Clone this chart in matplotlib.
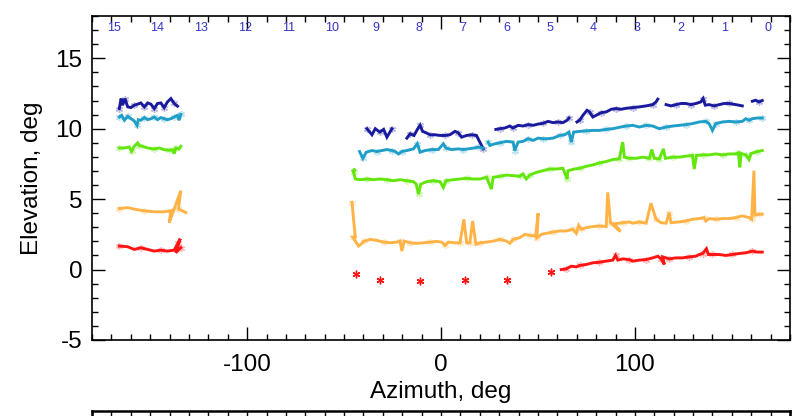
import numpy as np
import matplotlib
matplotlib.use("Agg")
import matplotlib.pyplot as plt
from matplotlib.ticker import MultipleLocator

plt.rcParams['font.family'] = ['Liberation Sans', 'DejaVu Sans']
plt.rcParams['axes.unicode_minus'] = False

nan = np.nan

# elevation vs azimuth per colour, nan = gap between segments
navy_az = [-165.9, -165.0, -164.2, -163.0, -161.6, -159.9, -158.2, -156.5, -154.8, -153.0, -151.3, -149.6, -147.9,
           -146.2, -144.5, -142.8, -141.1, -139.3, -137.6, -135.9, nan,
           -38.2, -35.6, -33.9, -31.6, -29.6, -27.9, -25.3, nan,
           -17.6, -15.9, -13.9, -12.2, -10.8, -9.5, -7.7, -5.7, -3.1, -0.5, 2.1, 4.6, 7.2, 8.9, 10.6, 13.2, 15.8,
           18.3, 20.9, 21.8, nan,
           28.3, 30.3, 32.9, 35.5, 37.1, 39.8, 42.3, 44.9, 47.5, 50.1, 52.6, 55.2, 57.8, 60.3, 62.9, 65.0, 66.0, nan,
           70.1, 71.5, 73.2, 75.3, 76.6, 78.3, 80.0, 82.6, 85.2, 87.8, 90.3, 92.9, 95.5, 98.9, 102.3, 105.8, 109.2,
           110.9, 111.8, nan,
           116.1, 118.6, 121.2, 123.8, 126.3, 128.9, 131.5, 134.0, 135.2, 136.3, 138.3, 140.9, 143.5, 146.0, 148.6,
           152.0, 155.4, nan,
           160.6, 162.3, 164.0, 165.7]
navy_el = [11.43, 12.14, 11.67, 12.14, 11.55, 11.5, 11.67, 11.74, 11.83, 11.55, 11.83, 11.74, 11.43,
           11.79, 11.83, 11.5, 11.9, 12.14, 11.79, 11.6, nan,
           10.0, 9.57, 10.0, 9.76, 9.95, 9.4, 10.0, nan,
           9.33, 9.64, 9.52, 9.95, 10.24, 9.81, 9.71, 9.57, 9.57, 9.52, 9.52, 9.57, 9.81, 9.71, 9.4, 9.52, 9.57,
           9.52, 8.81, 8.57, nan,
           9.95, 10.0, 10.05, 10.19, 10.05, 10.24, 10.19, 10.29, 10.24, 10.33, 10.38, 10.52, 10.43, 10.48, 10.43,
           10.6, 10.76, nan,
           10.48, 10.6, 10.95, 11.31, 11.19, 10.83, 10.95, 11.14, 11.19, 11.38, 11.43, 11.38, 11.45, 11.5, 11.55,
           11.62, 11.71, 11.9, 12.1, nan,
           11.71, 11.62, 11.71, 11.79, 11.79, 11.71, 11.79, 11.9, 12.14, 11.67, 11.71, 11.62, 11.71, 11.79, 11.79,
           11.71, 11.62, nan,
           11.95, 12.02, 11.9, 12.0]

cyan_az = [-165.9, -164.7, -163.3, -161.6, -159.9, -158.2, -156.8, -156.1, -154.8, -153.0, -151.3, -149.6, -147.9,
           -146.2, -144.5, -142.8, -141.1, -139.3, -137.6, -135.9, -135.1, -134.2, nan,
           -42.0, -40.3, -38.6, -35.6, -33.1, -30.5, -27.9, -25.3, -23.6, -21.9, -20.2, -17.6, -14.2, -12.2, -10.8,
           -8.2, -4.8, -1.4, 1.2, 2.6, 5.5, 8.9, 11.5, 14.1, 16.6, 19.2, 21.8, nan,
           24.3, 25.2, 27.8, 30.3, 33.8, 37.2, 38.0, 39.8, 42.3, 44.9, 47.5, 50.1, 52.6, 55.2, 57.8, 61.2, 63.8,
           66.0, 67.2, 68.4, 71.5, 74.9, 78.3, 81.7, 85.2, 88.6, 92.0,
           95.5, 98.9, 102.3, 105.8, 109.2, 112.6, 116.1, 119.5, 122.9, 126.3, 129.7, 133.2, 136.6, 138.3, 140.0,
           141.7, 145.2, 148.6, 152.0, 155.4, 157.2, 158.9, 160.6, 163.1, 165.7]
cyan_el = [10.83, 10.95, 10.6, 10.88, 10.71, 10.55, 10.24, 10.64, 10.6, 10.79, 10.64, 10.71, 10.83,
           10.64, 10.79, 10.71, 10.64, 10.71, 10.83, 10.95, 10.6, 11.02, nan,
           8.38, 7.9, 8.33, 8.45, 8.38, 8.45, 8.52, 8.45, 8.38, 8.21, 8.38, 8.45, 8.57, 8.93, 8.33,
           8.45, 8.52, 8.52, 8.93, 8.62, 8.52, 8.57, 8.52, 8.57, 8.62, 8.69, 8.62, nan,
           9.05, 8.81, 8.93, 9.0, 9.1, 9.05, 8.45, 9.05, 9.1, 9.29, 9.17, 9.33, 9.29, 9.29, 9.33, 9.52, 9.57,
           9.76, 9.05, 9.76, 9.81, 9.85, 9.88, 9.88, 9.95, 10.0, 10.1,
           10.19, 10.24, 10.12, 10.24, 10.19, 10.0, 10.12, 10.19, 10.24, 10.29, 10.36, 10.48, 10.52, 10.36, 9.88,
           10.36, 10.48, 10.52, 10.48, 10.52, 10.71, 10.6, 10.71, 10.76, 10.76]

green_az = [-165.9, -163.3, -160.8, -159.6, -158.2, -156.5, -155.6, -153.9, -151.3, -147.9, -145.3, -142.8, -140.2,
            -138.5, -137.6, -136.8, -135.1, -134.2, nan,
            -45.4, -44.2, -45.1, -44.2, -41.6, -38.2, -34.8, -31.4, -27.9, -24.5, -21.1, -17.6, -14.2, -12.8, -11.6,
            -10.4, -7.4, -3.9, -0.5, 1.2, 2.6, 6.4, 9.8, 13.2, 16.6,
            20.1, 23.5, 26.0, 26.9, 30.3, 33.8, 37.2, 40.6, 42.3, 44.0, 45.8, 49.2, 52.6, 56.0, 59.5, 62.9, 65.0,
            65.5, 68.9, 71.5, 74.9, 78.3, 81.7, 85.2, 88.6, 92.0,
            93.7, 94.6, 97.2, 100.6, 104.0, 107.5, 108.7, 110.0, 112.6, 114.7, 115.7, 119.5, 122.9, 126.3, 129.7,
            130.6, 131.8, 134.9, 138.3, 141.7, 145.2, 148.6, 152.0, 153.4, 154.1, 154.8, 157.2, 158.9, 159.9,
            163.1, 165.7]
green_el = [8.63, 8.63, 8.7, 8.4, 8.75, 8.99, 8.8, 8.75, 8.63, 8.56, 8.63, 8.51, 8.47,
            8.51, 8.23, 8.63, 8.56, 8.75, nan,
            7.02, 7.14, 6.9, 6.43, 6.38, 6.43, 6.38, 6.43, 6.38, 6.31, 6.38, 6.31, 6.24, 6.07, 5.36,
            6.07, 6.24, 6.31, 6.24, 5.83, 6.31, 6.38, 6.43, 6.48, 6.43,
            6.43, 6.55, 5.71, 6.55, 6.62, 6.71, 6.67, 6.62, 6.79, 6.43, 6.71, 6.9, 7.02, 7.14, 7.14, 7.19, 6.43,
            7.02, 7.14, 7.19, 7.33, 7.43, 7.57, 7.67, 7.81, 7.86,
            9.05, 7.98, 7.9, 7.9, 7.98, 7.9, 8.52, 7.9, 7.86, 8.57, 7.9, 7.98, 7.98, 8.05, 8.1,
            7.14, 8.1, 8.14, 8.14, 8.21, 8.14, 8.21, 8.21, 8.29, 7.26, 8.24, 8.14, 7.81, 8.24,
            8.38, 8.45]

orange_az = [-165.9, -161.6, -158.2, -153.0, -147.9, -142.8, -139.3, -140.2, -134.2, -135.4, -131.6, nan,
             -45.9, -45.1, -44.2, -45.5, -42.5, -41.3, -39.9, -36.5, -33.1, -29.6, -26.2, -22.8, -21.1, -20.2, -19.0,
             -15.9, -12.5, -9.1, -5.7, -2.2, 0.3, 2.1, 3.8, 7.2, 9.8, 11.8, 13.2, 14.9, 16.3, 18.0,
             20.1, 23.5, 26.9, 30.3, 33.8, 35.5, 37.2, 40.6, 43.2, 45.8, 48.8, 50.1, 49.5, 51.8, 54.3, 57.8, 61.2,
             64.6, 68.0, 69.8, 71.0, 72.3, 74.9, 78.3, 81.7, 85.2, 86.0, 87.4, 92.5, 89.5, 94.0, 97.2,
             98.9, 102.3, 105.8, 108.3, 110.9, 113.5, 116.1, 117.7, 118.6, 122.9, 126.3, 129.7, 133.2, 135.7, 136.6,
             138.3, 141.7, 145.2, 148.6, 152.0, 155.4, 158.9, 160.2, 161.4, 161.9, 164.0, 165.7]
orange_el = [4.33, 4.4, 4.29, 4.17, 4.1, 4.1, 4.17, 3.33, 5.6, 4.3, 4.05, nan,
             4.76, 3.57, 2.33, 2.3, 1.67, 1.79, 2.0, 2.14, 2.07, 1.95, 1.9, 1.95, 2.02, 1.31, 2.02,
             1.9, 1.86, 1.9, 1.95, 2.0, 1.95, 1.71, 1.95, 1.9, 1.9, 3.57, 1.9, 1.9, 3.45, 1.79,
             1.9, 1.95, 2.02, 2.14, 2.02, 1.86, 2.14, 2.26, 2.5, 2.43, 2.38, 4.0, 2.26, 2.5, 2.57, 2.67, 2.74,
             2.74, 2.86, 2.57, 3.14, 2.86, 2.98, 3.05, 3.1, 3.05, 5.48, 3.33, 2.7, 3.25, 3.33, 3.38,
             3.29, 3.38, 3.29, 4.71, 3.57, 3.33, 3.29, 4.05, 3.33, 3.38, 3.45, 3.57, 3.62, 3.69, 3.45,
             3.62, 3.57, 3.62, 3.62, 3.69, 3.81, 3.69, 3.57, 7.02, 3.86, 3.93, 3.93]

red_az = [-165.9, -161.6, -158.2, -154.8, -151.3, -147.9, -144.5, -141.1, -137.6, -135.6, -134.5, -136.8, -134.2, nan,
          62.0, 64.6, 67.2, 69.8, 71.5, 74.9, 78.3, 81.7, 85.2, 88.6, 90.0, 91.2, 93.8, 97.2, 98.9, 102.3, 105.8,
          109.2, 111.8, 113.5, 115.2, 114.4, 117.7, 121.2, 124.6, 128.0, 131.5, 133.2, 134.9, 136.9, 137.9, 140.0,
          143.5, 146.9, 150.3, 153.7, 157.2, 160.6, 163.1, 165.7]
red_el = [1.67, 1.62, 1.43, 1.55, 1.43, 1.31, 1.38, 1.31, 1.38, 1.9, 2.19, 1.19, 1.55, nan,
          0.0, 0.05, 0.24, 0.19, 0.29, 0.36, 0.48, 0.52, 0.6, 0.67, 1.0, 0.67, 0.76, 0.7, 0.6, 0.67, 0.71,
          0.83, 0.95, 0.76, 0.36, 0.9, 0.76, 0.83, 0.83, 0.9, 0.95, 1.07, 1.14, 1.48, 1.07, 1.07,
          1.07, 1.0, 1.07, 1.14, 1.19, 1.31, 1.24, 1.24]

# isolated red points (no line)
red_pts_az = [-43.7, -31.7, -10.8, 12.3, 33.8, 56.9]
red_pts_el = [-0.29, -0.76, -0.83, -0.76, -0.71, -0.19]

sectors = list(range(15, -1, -1))

series = [
    (navy_az, navy_el, '#1a1a9e'),
    (cyan_az, cyan_el, '#1f9fc8'),
    (green_az, green_el, '#62e60c'),
    (orange_az, orange_el, '#ffb347'),
    (red_az, red_el, '#ff1414'),
]

fig = plt.figure(figsize=(8, 4.16), dpi=100)
ax = fig.add_axes([0.115, 0.1827, 0.8725, 0.7788])

asterisk = (6, 2, 0)
for az, el, col in series:
    ax.plot(az, el, color=col, linewidth=2.1, solid_joinstyle='miter')
    ax.plot(az, el, linestyle='none', marker=asterisk, markersize=5, color=col,
            alpha=0.3, markevery=3)

ax.plot(red_pts_az, red_pts_el, linestyle='none', marker=asterisk, markersize=5.5,
        color='#ff1414', markeredgewidth=1.0)

ax.set_xlim(-180, 180)
ax.set_ylim(-5, 18)
ax.xaxis.set_major_locator(MultipleLocator(100))
ax.xaxis.set_minor_locator(MultipleLocator(10))
ax.yaxis.set_major_locator(MultipleLocator(5))
ax.yaxis.set_minor_locator(MultipleLocator(1))
ax.tick_params(which='both', direction='in', top=True, right=True, width=1.0)
ax.tick_params(which='major', length=9.5)
ax.tick_params(which='minor', length=4.5)
ax.tick_params(axis='x', labelsize=17.5, pad=10)
ax.tick_params(axis='y', labelsize=17.5, pad=7)
for s in ax.spines.values():
    s.set_linewidth(1.2)

ax.set_xlabel('Azimuth, deg', fontsize=17.5, labelpad=4)
ax.set_ylabel('Elevation, deg', fontsize=17.5, labelpad=9)

# sector numbers along the top
for n in sectors:
    ax.text((8 - n) * 22.5 - 11.25, 0.963, str(n), transform=ax.get_xaxis_transform(),
            ha='center', va='center', fontsize=9, color='#3434c4')

# top edge of the next panel, cut off at the bottom of the image
ax2 = fig.add_axes([0.115, -0.3, 0.8725, 0.312])
ax2.set_xlim(-180, 180)
ax2.set_ylim(0, 1)
ax2.xaxis.set_major_locator(MultipleLocator(100))
ax2.xaxis.set_minor_locator(MultipleLocator(10))
ax2.tick_params(which='both', direction='in', top=True, bottom=False, labelbottom=False,
                left=False, labelleft=False, width=1.0)
ax2.tick_params(which='major', length=9.5)
ax2.tick_params(which='minor', length=4.5)
for s in ax2.spines.values():
    s.set_linewidth(1.8)

fig.savefig('out.png', dpi=100)
